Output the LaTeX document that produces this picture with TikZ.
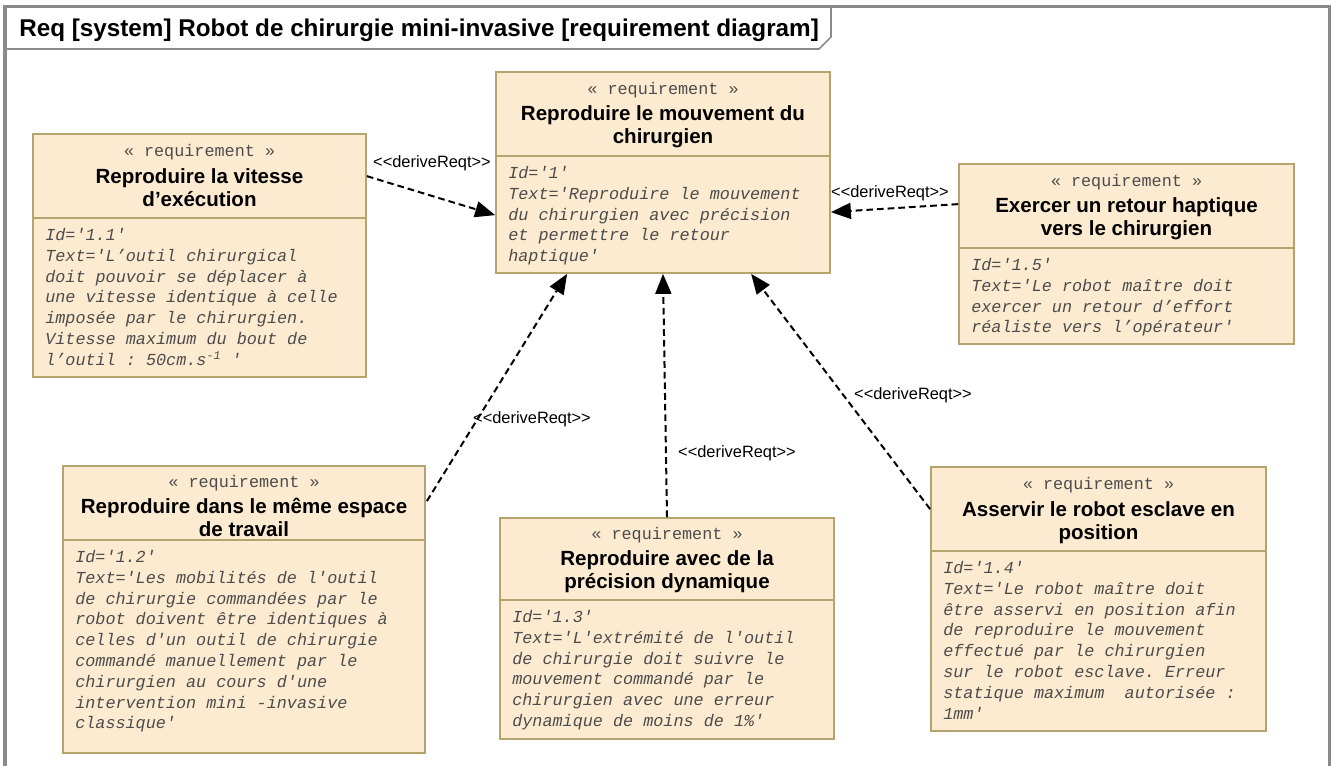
\documentclass[tikz,border=0pt]{standalone}
\usepackage{fontspec}
\setmainfont{Liberation Sans}
\setmonofont{Liberation Mono}
\usetikzlibrary{arrows.meta,fit,calc}
\definecolor{reqfill}{RGB}{252,235,208}
\definecolor{reqedge}{RGB}{181,164,112}
\definecolor{framegray}{RGB}{138,138,138}
\begin{document}
\begin{tikzpicture}[x=0.75pt, y=-0.75pt,
    req/.style = {draw=reqedge, fill=reqfill, line width=1.3pt, inner sep=0pt},
    sep/.style = {draw=reqedge, line width=1.3pt},
    stereo/.style = {font=\ttfamily\fontsize{12.6}{15}\selectfont, text=black!70, inner sep=0pt},
    reqname/.style = {font=\bfseries\fontsize{15.4}{17.3}\selectfont, align=center, inner sep=0pt},
    reqtext/.style = {font=\ttfamily\itshape\fontsize{12.6}{15.6}\selectfont, align=left, inner sep=0pt, anchor=north west, text=black!70},
    derive/.style = {dash pattern=on 5pt off 3pt, line width=1.5pt, -{Triangle[length=15pt,width=12pt]}},
    lbl/.style = {font=\fontsize{12.3}{14}\selectfont, inner sep=0pt}]
    \clip (0,0) rectangle (1333,765);
    % frame
    \draw[framegray, line width=2.5pt] (5,780) -- (5,6.5) -- (1329.5,6.5) -- (1329.5,780);
    \draw[framegray, line width=1.2pt] (5,49) -- (819,49) -- (831,37) -- (831,6.5);
    \node[font=\bfseries\fontsize{18.2}{20}\selectfont, anchor=base west, inner sep=0pt] (title) at (19,36) {Req [system] Robot de chirurgie mini-invasive [requirement diagram]};

    % 1
    \node[req, fit={(496,72) (830,273)}] (r1) {};
    \draw[sep] (496,156) -- (830,156);
    \node[stereo] (r1s) at (663,90) {« requirement »};
    \node[reqname] (r1n) at (663,127) {Reproduire le mouvement du\\chirurgien};
    \node[reqtext] (r1t) at (508,166) {Id='1'\\Text='Reproduire le mouvement\\du chirurgien avec précision\\et permettre le retour\\haptique'};

    % 1.1
    \node[req, fit={(33,134) (366,377)}] (r11) {};
    \draw[sep] (33,218) -- (366,218);
    \node[stereo] (r11s) at (199.5,152) {« requirement »};
    \node[reqname] (r11n) at (199.5,188) {Reproduire la vitesse\\d’exécution};
    \node[reqtext] (r11t) at (45,228) {Id='1.1'\\Text='L’outil chirurgical\\doit pouvoir se déplacer à\\une vitesse identique à celle\\imposée par le chirurgien.\\Vitesse maximum du bout de\\l’outil : 50cm.s\textsuperscript{-1} '};

    % 1.5
    \node[req, fit={(959,164) (1294,344)}] (r15) {};
    \draw[sep] (959,248) -- (1294,248);
    \node[stereo] (r15s) at (1126.5,182) {« requirement »};
    \node[reqname] (r15n) at (1126.5,219) {Exercer un retour haptique\\vers le chirurgien};
    \node[reqtext] (r15t) at (971,258) {Id='1.5'\\Text='Le robot maître doit\\exercer un retour d’effort\\réaliste vers l’opérateur'};

    % 1.2
    \node[req, fit={(63,466) (425,753)}] (r12) {};
    \draw[sep] (63,540) -- (425,540);
    \node[stereo] (r12s) at (244,483) {« requirement »};
    \node[reqname] (r12n) at (244,517.5) {Reproduire dans le même espace\\de travail};
    \node[reqtext] (r12t) at (75,550) {Id='1.2'\\Text='Les mobilités de l'outil\\de chirurgie commandées par le\\robot doivent être identiques à\\celles d'un outil de chirurgie\\commandé manuellement par le\\chirurgien au cours d'une\\intervention mini -invasive\\classique'};

    % 1.3
    \node[req, fit={(500,518) (834,739)}] (r13) {};
    \draw[sep] (500,600) -- (834,600);
    \node[stereo] (r13s) at (667,535) {« requirement »};
    \node[reqname] (r13n) at (667,572) {Reproduire avec de la\\précision dynamique};
    \node[reqtext] (r13t) at (512,610) {Id='1.3'\\Text='L'extrémité de l'outil\\de chirurgie doit suivre le\\mouvement commandé par le\\chirurgien avec une erreur\\dynamique de moins de 1\%'};

    % 1.4
    \node[req, fit={(931,467) (1266,731)}] (r14) {};
    \draw[sep] (931,551) -- (1266,551);
    \node[stereo] (r14s) at (1098.5,485) {« requirement »};
    \node[reqname] (r14n) at (1098.5,523) {Asservir le robot esclave en\\position};
    \node[reqtext] (r14t) at (943,561) {Id='1.4'\\Text='Le robot maître doit\\être asservi en position afin\\de reproduire le mouvement\\effectué par le chirurgien\\sur le robot esclave. Erreur\\statique maximum~~autorisée :\\1mm'};

    % deriveReqt
    \draw[derive] ($(r11.north east)+(0,43)$) -- ($(r1.north west)+(0,144)$);
    \draw[derive] ($(r15.north west)+(0,41)$) -- ($(r1.north east)+(0,141)$);
    \draw[derive] ($(r12.north east)+(1,36)$) -- ($(r1.south west)+(72,0)$);
    \draw[derive] (r13.north) -- (r1.south);
    \draw[derive] ($(r14.north west)+(0,43)$) -- ($(r1.south west)+(256,0)$);
    \node[lbl] (l11) at (432,163) {<\kern0pt<deriveReqt>\kern0pt>};
    \node[lbl] (l15) at (890,193) {<\kern0pt<deriveReqt>\kern0pt>};
    \node[lbl] (l12) at (532,419) {<\kern0pt<deriveReqt>\kern0pt>};
    \node[lbl] (l13) at (737,453) {<\kern0pt<deriveReqt>\kern0pt>};
    \node[lbl] (l14) at (913,395) {<\kern0pt<deriveReqt>\kern0pt>};
\end{tikzpicture}
\end{document}
